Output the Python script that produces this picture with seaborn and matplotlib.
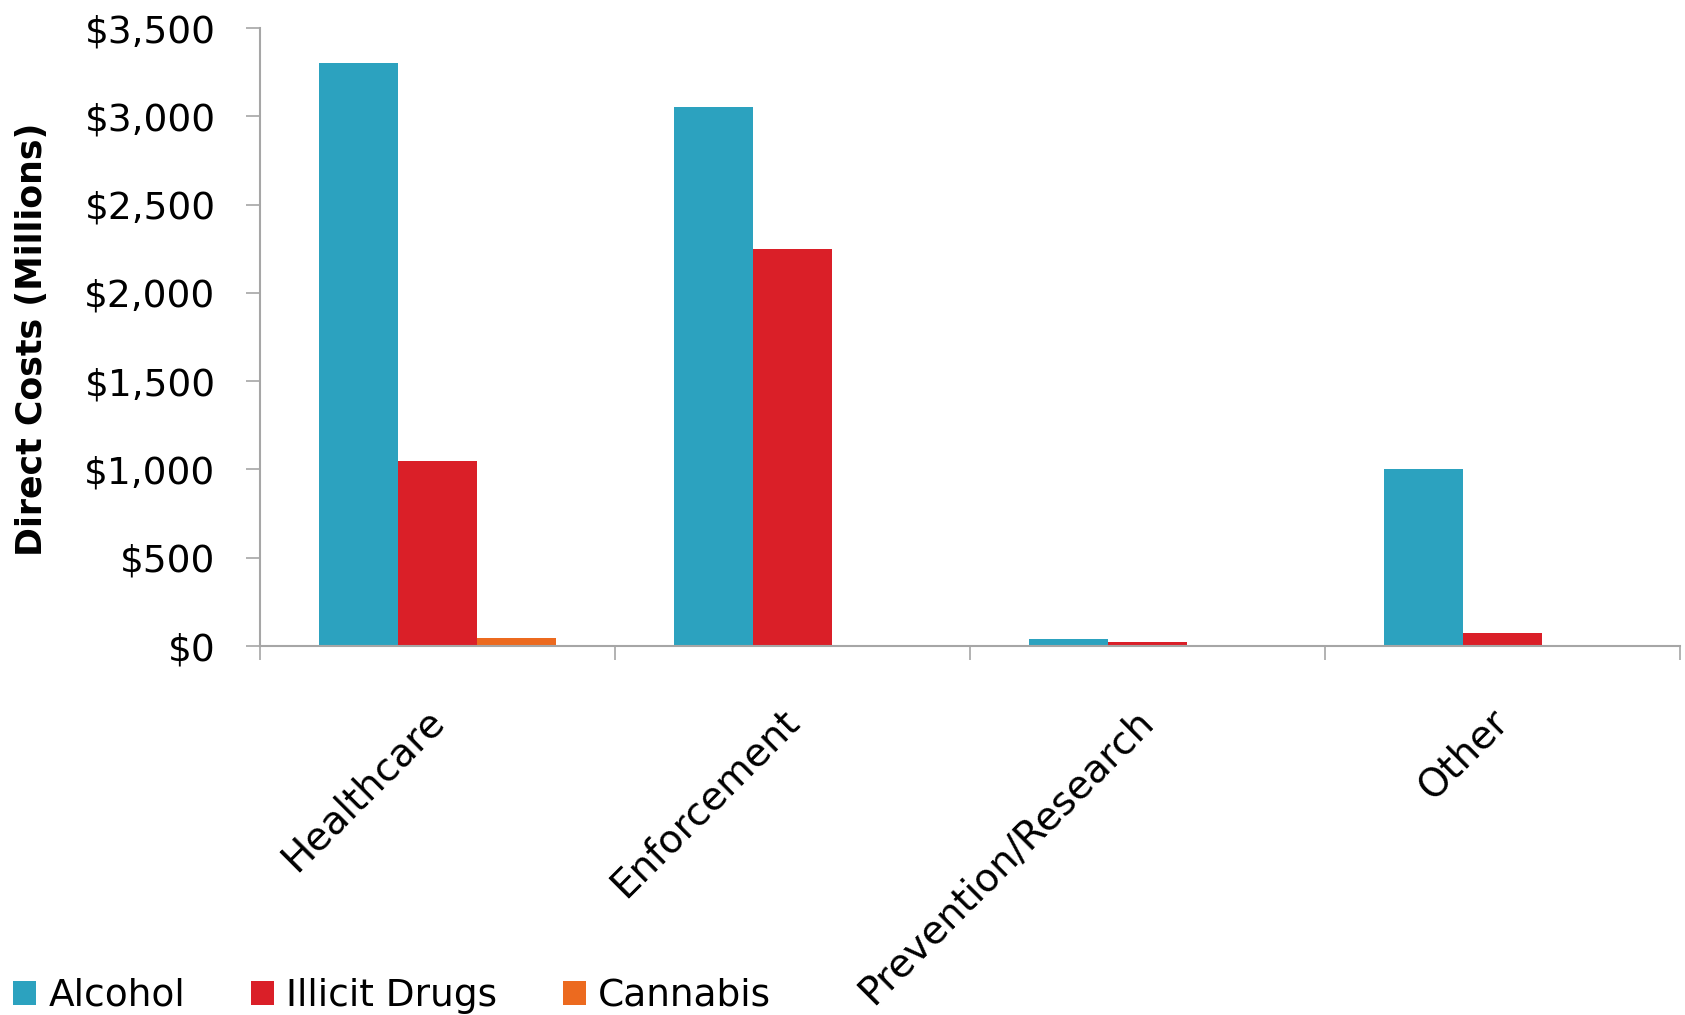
import matplotlib
matplotlib.use("Agg")
import matplotlib.pyplot as plt
import seaborn as sns
import pandas as pd
from matplotlib.ticker import FixedLocator, FuncFormatter

categories = ["Healthcare", "Enforcement", "Prevention/Research", "Other"]
substances = ["Alcohol", "Illicit Drugs", "Cannabis"]
alcohol = [3300, 3050, 42, 1000]
illicit_drugs = [1050, 2250, 25, 72]
cannabis = [45, 0, 0, 0]
colors = ["#2CA2BF", "#DA1F28", "#EC6A1F"]
y_ticks = [0, 500, 1000, 1500, 2000, 2500, 3000, 3500]

rows = []
for name, vals in zip(substances, [alcohol, illicit_drugs, cannabis]):
    for c, v in zip(categories, vals):
        rows.append({"Category": c, "Substance": name, "Cost": v})
df = pd.DataFrame(rows)

sns.set_style("white")
plt.rcParams["font.family"] = ["DejaVu Sans"]
plt.rcParams["text.color"] = "black"
plt.rcParams["axes.labelcolor"] = "black"
plt.rcParams["xtick.labelcolor"] = "black"
plt.rcParams["ytick.labelcolor"] = "black"

fig = plt.figure(figsize=(16.85, 10.15), dpi=100)
ax = fig.add_axes([260 / 1685, 1 - 646 / 1015, 1420 / 1685, 618 / 1015])

sns.barplot(data=df, x="Category", y="Cost", hue="Substance", order=categories,
            hue_order=substances, palette=colors, width=0.667, linewidth=0,
            saturation=1, ax=ax)

ax.set_xlim(-0.5, 3.5)
ax.set_ylim(0, 3500)
ax.yaxis.set_major_locator(FixedLocator(y_ticks))
ax.yaxis.set_major_formatter(FuncFormatter(lambda v, p: "${:,.0f}".format(v)))

gray = "#A6A6A6"
for s in ["top", "right"]:
    ax.spines[s].set_visible(False)
for s in ["left", "bottom"]:
    ax.spines[s].set_color(gray)
    ax.spines[s].set_linewidth(1.5)

ax.tick_params(axis="y", which="major", direction="out", length=10, width=1.2,
               color=gray, labelsize=27, pad=22, left=True, labelcolor="black")
ax.set_xticks(range(len(categories)))
ax.set_xticklabels(categories, rotation=45, ha="right", va="center",
                   rotation_mode="anchor", fontsize=28, color="black")
ax.tick_params(axis="x", which="major", length=0, pad=50)
ax.set_xticks([-0.5, 0.5, 1.5, 2.5, 3.5], minor=True)
ax.tick_params(axis="x", which="minor", direction="out", length=10, width=1.2,
               color=gray, bottom=True)

ax.set_xlabel("")
ax.set_ylabel("Direct Costs (Millions)", fontsize=25, fontweight="bold", va="center",
              color="black")
ax.yaxis.set_label_coords(-0.1606, 0.497)

handles, labels = ax.get_legend_handles_labels()
ax.get_legend().remove()
leg = fig.legend(handles, labels, loc="center left", bbox_to_anchor=(13 / 1685, 1 - 996 / 1015),
                 ncol=3, frameon=False, fontsize=27, handlelength=0.62, handleheight=0.62,
                 handletextpad=0.32, columnspacing=1.75, borderpad=0, borderaxespad=0)
for t in leg.get_texts():
    t.set_color("black")

fig.savefig("out.png", dpi=100)
